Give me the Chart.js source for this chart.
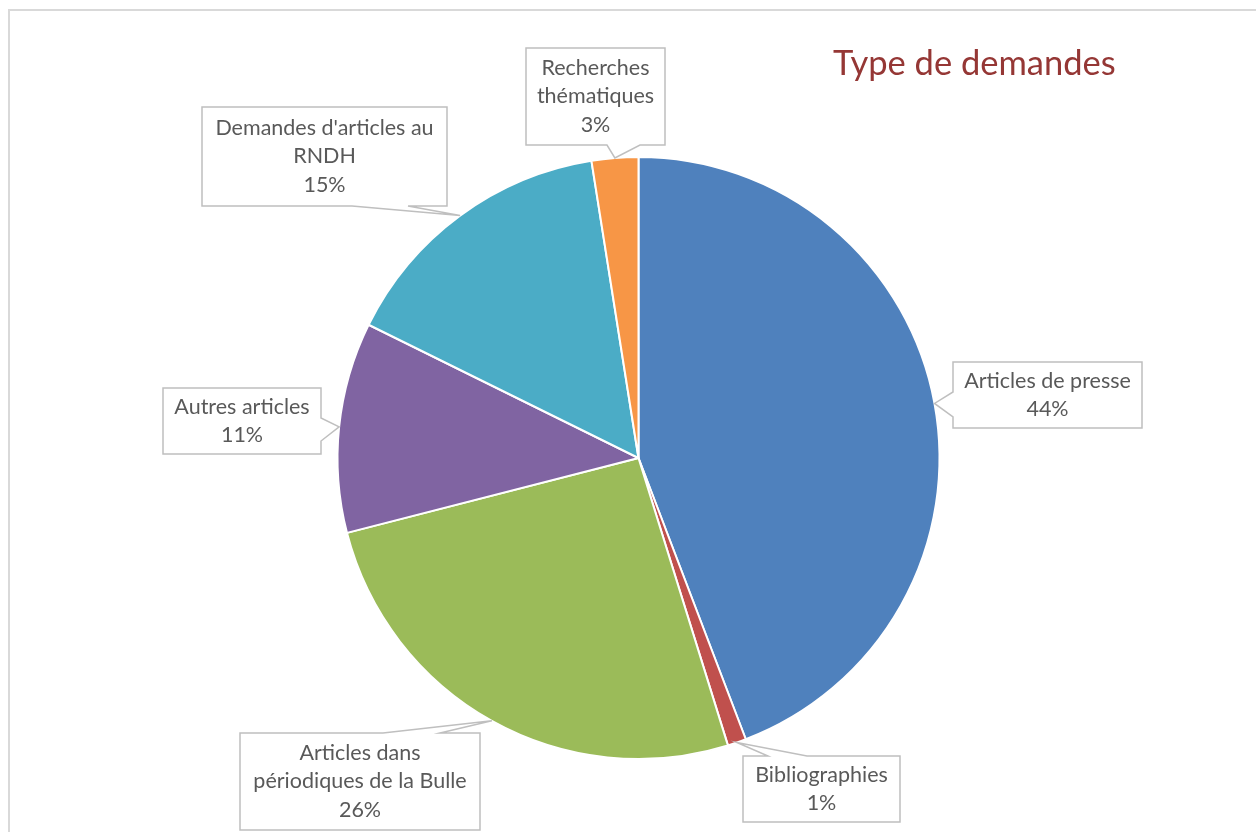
<!DOCTYPE html>
<html>
<head>
<meta charset="utf-8">
<script src="https://cdn.jsdelivr.net/npm/chart.js@4.4.0/dist/chart.umd.min.js"></script>
<style>
  body { margin: 0; background: #fff; }
</style>
</head>
<body>
<canvas id="chartTypes" width="1256" height="832"></canvas>
<script>
const categories = [
  'Articles de presse',
  'Bibliographies',
  'Articles dans périodiques de la Bulle',
  'Autres articles',
  "Demandes d'articles au RNDH",
  'Recherches thématiques',
];
// how the labels wrap inside their callout boxes
const labelLines = [
  ['Articles de presse'],
  ['Bibliographies'],
  ['Articles dans', 'périodiques de la Bulle'],
  ['Autres articles'],
  ["Demandes d'articles au", 'RNDH'],
  ['Recherches', 'thématiques'],
];
const shares = [44.2, 1.0, 25.8, 11.3, 15.2, 2.5];
const colors = ['#4F81BD', '#C0504D', '#9BBB59', '#8064A2', '#4BACC6', '#F79646'];

// callout boxes: rect, side the pointer leaves from, and the pointer base
const callouts = [
  { x: 953, y: 362, w: 189, h: 66, side: 'left', base: [392, 417] },
  { x: 743, y: 756, w: 157, h: 66, side: 'top', base: [768, 807] },
  { x: 240, y: 733, w: 240, h: 97, side: 'top', base: [383, 440] },
  { x: 163, y: 388, w: 158, h: 66, side: 'right', base: [418, 441] },
  { x: 202, y: 107, w: 245, h: 99, side: 'bottom', base: [352, 408] },
  { x: 526, y: 48, w: 139, h: 97, side: 'bottom', base: [607, 640] },
];

const FONT = 'Lato, "Open Sans", sans-serif';

function calloutPath(ctx, c, tx, ty) {
  const { x, y, w, h, side, base } = c;
  ctx.beginPath();
  ctx.moveTo(x, y);
  if (side === 'top') {
    ctx.lineTo(base[0], y); ctx.lineTo(tx, ty); ctx.lineTo(base[1], y);
  }
  ctx.lineTo(x + w, y);
  if (side === 'right') {
    ctx.lineTo(x + w, base[0]); ctx.lineTo(tx, ty); ctx.lineTo(x + w, base[1]);
  }
  ctx.lineTo(x + w, y + h);
  if (side === 'bottom') {
    ctx.lineTo(base[1], y + h); ctx.lineTo(tx, ty); ctx.lineTo(base[0], y + h);
  }
  ctx.lineTo(x, y + h);
  if (side === 'left') {
    ctx.lineTo(x, base[1]); ctx.lineTo(tx, ty); ctx.lineTo(x, base[0]);
  }
  ctx.closePath();
}

const calloutPlugin = {
  id: 'callouts',
  afterDatasetsDraw(chart) {
    const ctx = chart.ctx;
    const meta = chart.getDatasetMeta(0);
    const total = shares.reduce((a, b) => a + b, 0);
    ctx.save();
    meta.data.forEach((arc, i) => {
      const c = callouts[i];
      const mid = (arc.startAngle + arc.endAngle) / 2;
      const tx = arc.x + Math.cos(mid) * arc.outerRadius;
      const ty = arc.y + Math.sin(mid) * arc.outerRadius;
      calloutPath(ctx, c, tx, ty);
      ctx.fillStyle = '#fff';
      ctx.fill();
      ctx.strokeStyle = '#BFBFBF';
      ctx.lineWidth = 1.5;
      ctx.stroke();

      const lines = labelLines[i].concat([Math.round(shares[i] / total * 100) + '%']);
      ctx.fillStyle = '#595959';
      ctx.font = '21.5px ' + FONT;
      ctx.textAlign = 'center';
      ctx.textBaseline = 'middle';
      const lh = 28.8;
      const startY = c.y + c.h / 2 - (lines.length - 1) * lh / 2;
      lines.forEach((t, k) => ctx.fillText(t, c.x + c.w / 2, startY + k * lh));
    });

    // title
    ctx.fillStyle = '#953735';
    ctx.font = '34.5px ' + FONT;
    ctx.textAlign = 'left';
    ctx.textBaseline = 'alphabetic';
    ctx.fillText('Type de demandes', 833, 75);

    // chart frame
    ctx.strokeStyle = '#D9D9D9';
    ctx.lineWidth = 2;
    ctx.beginPath();
    ctx.moveTo(9, 840);
    ctx.lineTo(9, 10);
    ctx.lineTo(1260, 10);
    ctx.stroke();
    ctx.restore();
  },
};

const dataPie = {
  labels: categories,
  datasets: [
    {
      data: shares,
      backgroundColor: colors,
      borderColor: '#fff',
      borderWidth: 2,
    },
  ],
};

const configPie = {
  type: 'pie',
  data: dataPie,
  options: {
    responsive: false,
    animation: false,
    layout: { padding: { left: 336, right: 315, top: 156, bottom: 72 } },
    plugins: {
      legend: { display: false },
      tooltip: { enabled: false },
    },
  },
  plugins: [calloutPlugin],
};

var chartPie = new Chart(document.getElementById('chartTypes'), configPie);
</script>
</body>
</html>
